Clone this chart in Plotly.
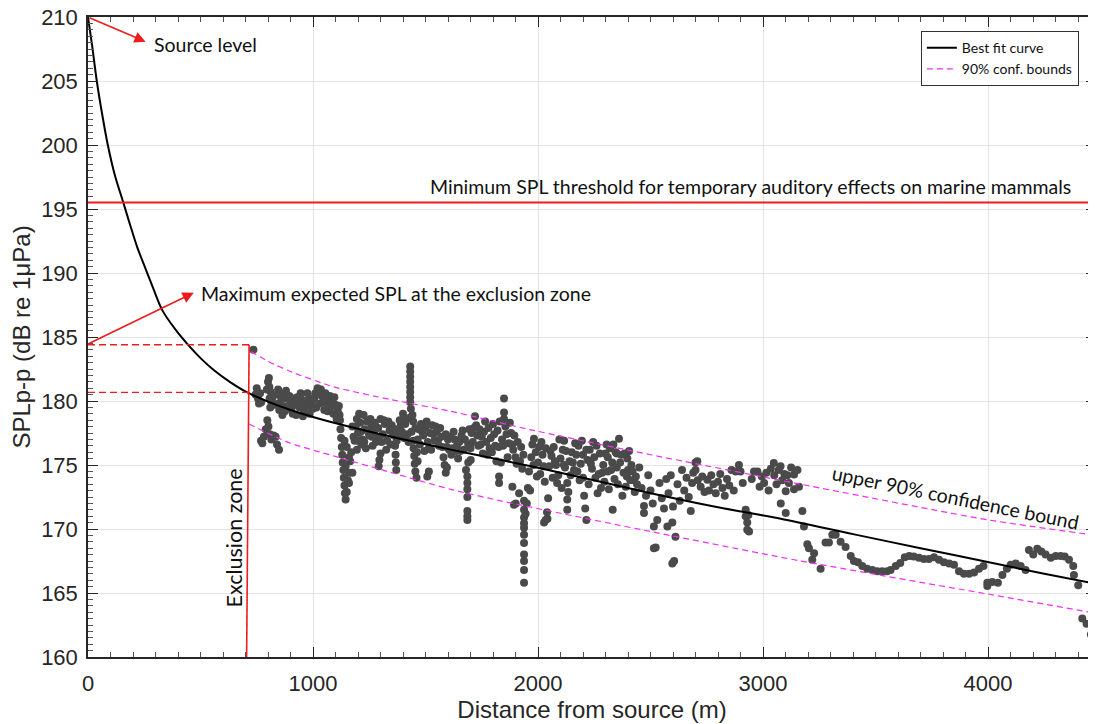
import plotly.graph_objects as go

# ---------------- data ----------------
# measured SPL, near range (distance m, SPL dB)
meas_near = [
    (735,184.0),(745,180.5),(750,181.0),(755,180.2),(760,179.8),(765,180.6),(770,179.9),
    (795,180.9),(800,181.5),(804,181.8),(806,181.1),(807,180.2),(810,179.5),(812,180.7),(815,179.9),
    (769,176.9),(775,176.7),(782,177.2),(790,177.8),(797,178.5),(802,178.0),(808,177.4),(815,177.0),
    (825,177.3),(834,177.2),(840,176.6),(849,176.2),
    (820,180.3),(830,179.7),(840,180.5),(845,179.8),(850,179.3),(860,180.2),(864,178.9),(870,179.6),
    (880,180.8),(885,180.2),(890,179.4),(900,179.9),(910,179.0),(920,179.7),(930,180.3),(940,179.5),
    (950,180.1),(955,178.8),(960,179.2),(970,180.0),(980,179.6),(990,180.2),(1000,179.4),(1010,180.6),
    (1020,181.0),(1025,180.5),(1030,179.8),(1040,180.4),(1050,179.3),(1060,180.0),(1070,179.5),
    (1080,180.1),(1090,179.0),(1100,179.7),(1105,178.6),(1110,179.2),
    (1120,178.5),(1122,177.8),(1125,177.1),(1128,176.4),(1130,175.8),(1132,175.2),(1135,174.6),
    (1137,174.0),(1140,173.4),(1142,172.8),(1145,172.3),(1150,172.9),(1155,173.8),(1160,173.6),
    (1160,174.4),(1165,175.3),(1170,176.0),(1145,174.9),(1175,174.4),(1150,176.4),(1140,176.9),(1160,175.6),
    (1180,177.2),(1190,178.0),(1195,176.2),(1200,177.5),(1205,179.0),(1210,178.3),(1215,176.6),
    (1220,177.0),(1230,177.8),(1235,176.3),(1240,178.4),(1250,177.3),(1260,178.1),(1270,177.6),
    (1280,176.8),(1290,177.9),(1292,174.9),(1295,175.4),(1300,175.9),(1300,178.6),(1310,177.4),
    (1320,178.2),(1330,176.9),(1340,177.7),(1185,176.9),(1225,178.9),(1265,176.5),(1325,176.2),
    (1350,178.1),(1360,177.3),(1365,176.5),(1367,175.8),(1368,175.2),(1370,174.6),(1375,177.8),
    (1385,178.5),(1395,177.6),(1400,179.0),(1410,178.2),(1420,177.4),(1430,178.7),
    (1432,182.7),(1432,182.3),(1432,181.9),(1432,181.5),(1432,181.1),(1432,180.7),(1432,180.3),
    (1432,179.9),(1435,179.4),
    (1445,176.9),(1447,176.3),(1450,175.7),(1452,175.1),(1455,174.5),(1460,174.0),(1462,176.0),(1465,175.3),
]

# extra readings inside the dense band
meas_band = [
    (845,180.9),(855,179.6),(865,180.5),(875,179.2),(895,180.4),(905,179.5),(915,180.2),(925,178.9),
    (935,179.9),(945,180.6),(965,179.7),(975,180.6),(985,179.0),(995,179.9),(1005,180.2),(1015,179.5),
    (1035,180.9),(1045,179.9),(1055,180.6),(1065,179.2),(1075,180.4),(1085,179.6),(1095,180.3),
    (1115,179.6),(1118,178.9),
    (1175,178.0),(1195,178.6),(1200,176.9),(1212,177.6),(1228,176.8),(1245,177.6),(1255,178.6),
    (1262,177.2),(1275,178.3),(1285,177.2),(1305,176.8),(1315,178.5),(1335,178.4),(1345,176.6),
    (1355,177.5),(1372,176.9),(1380,177.3),(1390,178.1),(1405,177.1),(1415,178.6),(1425,176.8),
    (1438,177.6),(1442,178.9),
    (1465,177.0),(1485,177.6),(1505,178.4),(1515,176.3),(1535,177.4),(1555,176.9),(1565,177.9),
    (1575,176.4),(1605,176.2),(1625,177.6),(1635,176.1),(1655,176.1),(1665,177.7),(1675,177.0),
    (1695,177.8),(1700,176.3),
    (1735,176.5),(1765,178.4),(1785,176.3),(1805,177.4),(1825,176.4),(1845,176.5),(1875,178.3),
    (1885,176.6),(1895,177.3),(1905,175.1),(1925,176.4),(1935,175.8),
    (1980,175.0),(2025,174.9),(2035,176.3),(2075,175.3),(2115,175.0),(2125,176.1),(2155,175.2),
    (2175,174.5),(2200,175.8),(2215,176.2),(2235,175.1),(2285,174.4),(2310,175.6),(2335,176.6),
    (2350,175.9),(2395,174.1),(2405,176.1),(2415,175.0),(2425,173.8),(2435,174.1),
]

# measured SPL, middle range
meas_mid = [
    (1470,177.8),(1480,178.2),(1490,177.3),(1500,177.9),(1508,174.1),(1510,176.8),(1515,174.5),
    (1520,177.5),(1530,178.1),(1540,176.9),(1550,177.6),(1560,176.5),(1570,177.2),(1580,175.6),
    (1585,175.0),(1590,174.4),(1595,176.4),(1600,177.0),(1445,178.4),(1455,177.9),(1475,176.6),
    (1495,176.1),(1525,176.2),(1545,178.0),
    (1590,177.4),(1610,177.2),(1620,176.3),(1630,177.0),(1640,176.5),(1650,176.8),(1660,177.3),
    (1670,176.2),(1595,174.8),(1615,175.8),(1645,175.5),
    (1680,174.6),(1686,174.1),(1686,173.6),(1686,173.1),(1686,172.5),(1686,171.4),(1686,171.0),
    (1686,170.7),(1690,175.2),(1690,176.6),
    (1701,175.4),(1705,177.5),(1710,176.8),(1715,177.9),(1720,178.8),(1725,178.1),(1730,177.3),
    (1740,177.8),(1745,176.6),(1750,177.2),(1755,175.9),
    (1760,177.6),(1770,176.8),(1780,177.9),(1790,177.1),(1800,178.2),(1810,176.5),(1820,177.7),
    (1827,174.1),(1827,173.6),(1830,178.4),(1835,175.2),(1840,177.0),(1849,180.2),(1849,179.1),
    (1849,178.6),(1855,178.0),(1860,177.4),(1865,175.6),(1870,176.7),(1880,177.5),(1886,173.3),
    (1893,171.9),(1901,172.0),(1916,172.8),(1775,175.8),(1795,176.0),(1815,175.3),
    (1890,176.2),(1900,175.6),(1910,176.8),(1920,175.3),(1930,174.7),(1938,172.2),(1938,171.5),
    (1938,170.9),(1938,170.45),(1938,170.1),(1938,169.55),(1938,168.9),(1938,168.0),(1938,167.5),
    (1938,166.8),(1938,165.8),(1945,171.2),(1950,172.0),(1955,173.2),(1960,174.5),(1970,175.6),
    (1975,176.6),(1982,177.05),(1990,176.0),(2000,175.2),(2005,176.4),(2010,174.3),(2020,175.8),
    (2027,170.5),(2030,173.7),(2034,170.7),(2040,171.3),(2042,170.8),(2045,172.4),(2050,174.9),
    (2055,176.1),(2060,175.7),(2070,176.4),(2080,175.0),(2085,173.6),(2090,174.2),(2100,175.5),
    (2110,176.2),(2116,176.9),(2120,174.8),(2130,173.6),(2130,171.5),(2130,172.3),(2135,172.9),
    (2140,175.3),(2150,176.0),(2160,174.6),(2170,175.8),(2180,176.5),(2190,175.1),(2200,174.0),
    (2205,172.6),(2210,171.6),(2215,170.7),(2220,175.4),(2230,176.2),(2240,174.7),(2250,175.6),
    (2260,176.5),(2270,174.3),(2280,173.2),(2290,175.0),(2300,175.9),(2310,174.5),(2320,176.3),
    (2330,175.2),(2332,171.5),(2340,173.9),(2350,174.8),(2360,177.05),(2370,175.8),(2380,174.4),
    (2390,173.3),(2397,175.5),(2400,174.6),(2410,173.8),(2420,174.5),(2430,172.9),(2440,173.5),
    (1965,173.0),(1995,174.1),(2015,176.8),(2065,174.0),(2095,177.0),(2105,173.2),(2145,174.2),
    (2165,176.7),(2185,173.8),(2195,176.9),(2225,173.5),(2245,176.8),(2255,174.0),(2265,172.8),
    (2275,175.9),(2295,173.7),(2305,176.6),(2315,173.1),(2325,174.6),(2345,176.0),(2355,173.5),
    (2365,175.2),(2375,172.6),(2385,175.9),
]

# measured SPL, far range
meas_far = [
    (2450,174.8),(2460,173.2),(2471,171.8),(2471,171.25),(2480,172.6),(2490,174.2),(2500,173.0),
    (2510,172.0),(2515,170.2),(2515,168.5),(2523,168.55),(2530,170.7),(2540,173.6),(2550,172.4),
    (2560,171.6),(2570,173.9),(2575,170.2),(2580,172.8),(2590,174.2),(2597,170.5),(2597,167.3),
    (2605,167.5),(2600,171.75),(2611,169.4),(2620,173.5),(2630,172.2),(2640,174.6),(2650,173.0),
    (2660,174.0),(2670,172.5),(2679,171.4),(2685,173.6),(2690,174.4),(2700,175.2),(2700,174.6),
    (2708,175.3),(2710,173.8),(2723,173.3),(2730,174.1),(2740,172.9),(2753,173.85),(2760,173.0),
    (2770,174.2),(2780,173.5),(2790,172.8),(2800,173.7),(2810,174.3),(2820,173.2),(2830,172.6),
    (2840,173.9),(2850,173.4),(2860,174.6),(2870,173.0),(2878,174.5),(2893,175.0),(2900,174.5),
    (2910,173.6),(2923,171.5),(2923,171.0),(2930,170.5),(2930,169.95),(2938,169.8),(2935,171.1),
    (2950,173.9),(2960,174.5),(2975,174.5),(2985,173.3),(2995,174.1),(3005,173.6),(3015,174.4),
    (3025,173.0),(3035,174.7),(3048,175.15),(3050,174.2),(3060,173.5),(3070,174.6),(3078,174.9),
    (3079,172.0),(3085,173.8),(3095,174.3),(3101,171.25),(3101,172.95),(3108,174.2),(3115,173.6),
    (3125,174.8),(3138,174.25),(3138,173.1),(3153,174.6),(3160,173.3),(3175,171.4),(3182,170.2),
    (3197,168.8),(3204,168.5),(3219,167.6),(3227,168.1),(3256,166.9),(3278,168.95),(3293,168.95),
    (3308,169.55),(3323,169.55),(3345,169.0),(3367,168.6),(3390,167.9),(3404,167.5),(3422,167.4),
    (3441,167.1),(3463,166.9),(3486,166.8),(3508,166.7),(3530,166.7),(3552,166.7),(3567,166.8),
    (3590,167.1),(3610,167.35),(3630,167.8),(3650,167.9),(3670,167.85),(3693,167.75),(3715,167.65),
    (3737,167.65),(3760,167.8),(3782,167.6),(3804,167.4),(3827,167.3),(3849,167.2),(3871,166.7),
    (3893,166.5),(3916,166.5),(3938,166.6),(3960,166.9),(3980,167.1),(3997,165.8),(3997,165.55),
    (4019,165.85),(4044,165.8),(4064,166.4),(4084,166.9),(4101,167.2),(4123,167.3),(4145,167.1),
    (4167,166.8),(4182,168.35),(4201,168.0),(4219,168.45),(4237,168.25),(4256,168.0),(4279,167.75),
    (4301,167.9),(4323,167.9),(4341,167.85),(4360,167.6),(4379,167.1),(4382,166.4),(4401,165.6),
    (4419,163.0),(4438,162.6),(4457,161.75),(4479,160.4),
]

# best fit curve
fit_x = [0, 18, 39, 62, 88, 120, 157, 190, 219, 250, 290, 330, 390, 449, 500,
         560, 630, 708, 800, 900, 1000, 1093, 1350, 1612, 1834, 2100, 2501, 2800, 3079, 3400, 3700,
         4004, 4250, 4483]
fit_y = [210.0, 207.8, 205.0, 202.5, 200.0, 197.6, 195.5, 193.6,
         192.0, 190.6, 188.8, 187.1, 185.55, 184.3, 183.35, 182.4, 181.5, 180.67, 179.95, 179.3,
         178.75, 178.3, 177.2, 176.2, 175.4, 174.4, 172.8, 171.7, 170.8, 169.6, 168.5, 167.4,
         166.5, 165.7]

# 90% confidence bounds
up_x = [725, 800, 900, 1093, 1350, 1612, 1968, 2501, 3167, 4004, 4483]
up_y = [183.85, 183.1, 182.3, 181.1, 180.1, 179.2, 177.75, 175.8, 173.5, 170.7, 169.5]
lo_x = [716, 797, 900, 1093, 1350, 1612, 1834, 2501, 3167, 4004, 4483]
lo_y = [178.2, 177.5, 176.7, 175.7, 174.4, 173.1, 172.2, 169.8, 167.5, 164.9, 163.4]

source_level = 210.0
threshold_spl = 195.5
max_spl_exclusion = 184.4
fit_at_exclusion = 180.67
exclusion_top_x = 716
exclusion_bot_x = 705

x_ticks = [0, 1000, 2000, 3000, 4000]
y_ticks = [160, 165, 170, 175, 180, 185, 190, 195, 200, 205, 210]

# ---------------- figure ----------------
meas = meas_near + meas_band + meas_mid + meas_far
mx = [p[0] for p in meas]
my = [p[1] for p in meas]

RED = "#ee1c1c"
TXT = "#262626"
ANN = "Lato, Open Sans, sans-serif"
ANN_FONT = dict(family=ANN, size=19.5, color="#111111")

fig = go.Figure()
fig.add_trace(go.Scatter(x=mx, y=my, mode="markers", showlegend=False,
                         marker=dict(size=8, color="#4a4a4a", line=dict(width=0))))
fig.add_trace(go.Scatter(x=fit_x, y=fit_y, mode="lines", name="Best fit curve",
                         line=dict(color="black", width=2, shape="spline", smoothing=0.8)))
fig.add_trace(go.Scatter(x=up_x, y=up_y, mode="lines", name="90% conf. bounds",
                         line=dict(color="#f030f0", width=1.2, dash="6px,4px", shape="spline", smoothing=0.6)))
fig.add_trace(go.Scatter(x=lo_x, y=lo_y, mode="lines", showlegend=False,
                         line=dict(color="#f030f0", width=1.2, dash="6px,4px", shape="spline", smoothing=0.6)))

# threshold line
fig.add_shape(type="line", xref="paper", x0=0, x1=1, yref="y", y0=threshold_spl, y1=threshold_spl,
              line=dict(color=RED, width=2))
# dashed exclusion-zone markers
fig.add_shape(type="line", x0=0, x1=exclusion_top_x, y0=max_spl_exclusion, y1=max_spl_exclusion,
              line=dict(color=RED, width=1.4, dash="7px,4px"))
fig.add_shape(type="line", x0=0, x1=exclusion_top_x, y0=fit_at_exclusion, y1=fit_at_exclusion,
              line=dict(color=RED, width=1.4, dash="7px,4px"))
fig.add_shape(type="line", x0=exclusion_top_x, x1=exclusion_bot_x, y0=max_spl_exclusion, y1=160,
              line=dict(color=RED, width=1.6))

# arrows
fig.add_annotation(x=256, y=208.07, ax=0, ay=source_level, axref="x", ayref="y", text="",
                   showarrow=True, arrowhead=2, arrowsize=1.4, arrowwidth=1.6, arrowcolor=RED)
fig.add_annotation(x=470, y=188.46, ax=0, ay=184.45, axref="x", ayref="y", text="",
                   showarrow=True, arrowhead=2, arrowsize=1.4, arrowwidth=1.6, arrowcolor=RED)

fig.add_annotation(x=283, y=207.84, text="Source level", showarrow=False, xanchor="left",
                   font=ANN_FONT)
fig.add_annotation(x=492, y=188.38, text="Maximum expected SPL at the exclusion zone",
                   showarrow=False, xanchor="left", font=ANN_FONT)
fig.add_annotation(x=2945, y=196.74,
                   text="Minimum SPL threshold for temporary auditory effects on marine mammals",
                   showarrow=False, font=ANN_FONT)
fig.add_annotation(x=648, y=169.32, text="Exclusion zone", showarrow=False, textangle=-90,
                   font=dict(family=ANN, size=21.5, color="#111111"))
fig.add_annotation(x=3856, y=172.5, text="upper 90% confidence bound", showarrow=False,
                   textangle=11.5, font=dict(family=ANN, size=19.5, color="#111111"))

axis_common = dict(showline=True, linecolor=TXT, linewidth=1.5, mirror="ticks",
                   ticks="inside", tickcolor=TXT, tickwidth=1.2, ticklen=10,
                   showgrid=True, gridcolor="#e3e3e3", gridwidth=1, zeroline=False,
                   automargin=False, ticklabeloverflow="allow",
                   tickfont=dict(family="Liberation Sans, Arial", size=22, color=TXT))

fig.update_xaxes(range=[0, 4480], tickvals=x_ticks, ticktext=[str(v) for v in x_ticks],
                 minor=dict(dtick=100, ticks="inside", ticklen=5, tickcolor="#555555", showgrid=False),
                 title=dict(text="Distance from source (m)", standoff=4,
                            font=dict(family="Liberation Sans, Arial", size=24, color=TXT)),
                 ticklabelstandoff=6, **axis_common)
fig.update_yaxes(range=[160, 210], tickvals=y_ticks, ticktext=[str(v) for v in y_ticks],
                 minor=dict(dtick=0.5, ticks="inside", ticklen=5, tickcolor="#555555", showgrid=False),
                 title=dict(text="SPLp-p (dB re 1μPa)", standoff=6,
                            font=dict(family="Liberation Sans, Arial", size=24, color=TXT)),
                 ticklabelstandoff=4, **axis_common)

# the page adds an 8px body margin, so the figure is 8px smaller and margins compensate
fig.update_layout(width=1088, height=716, margin=dict(l=80, r=0, t=9, b=67),
                  paper_bgcolor="white", plot_bgcolor="white",
                  legend=dict(x=0.983, y=0.978, xanchor="right", yanchor="top",
                              bgcolor="white", bordercolor="#333333", borderwidth=1,
                              font=dict(family=ANN, size=14, color="#111111"),
                              tracegroupgap=0, itemwidth=30))

fig.write_html("out.html")
